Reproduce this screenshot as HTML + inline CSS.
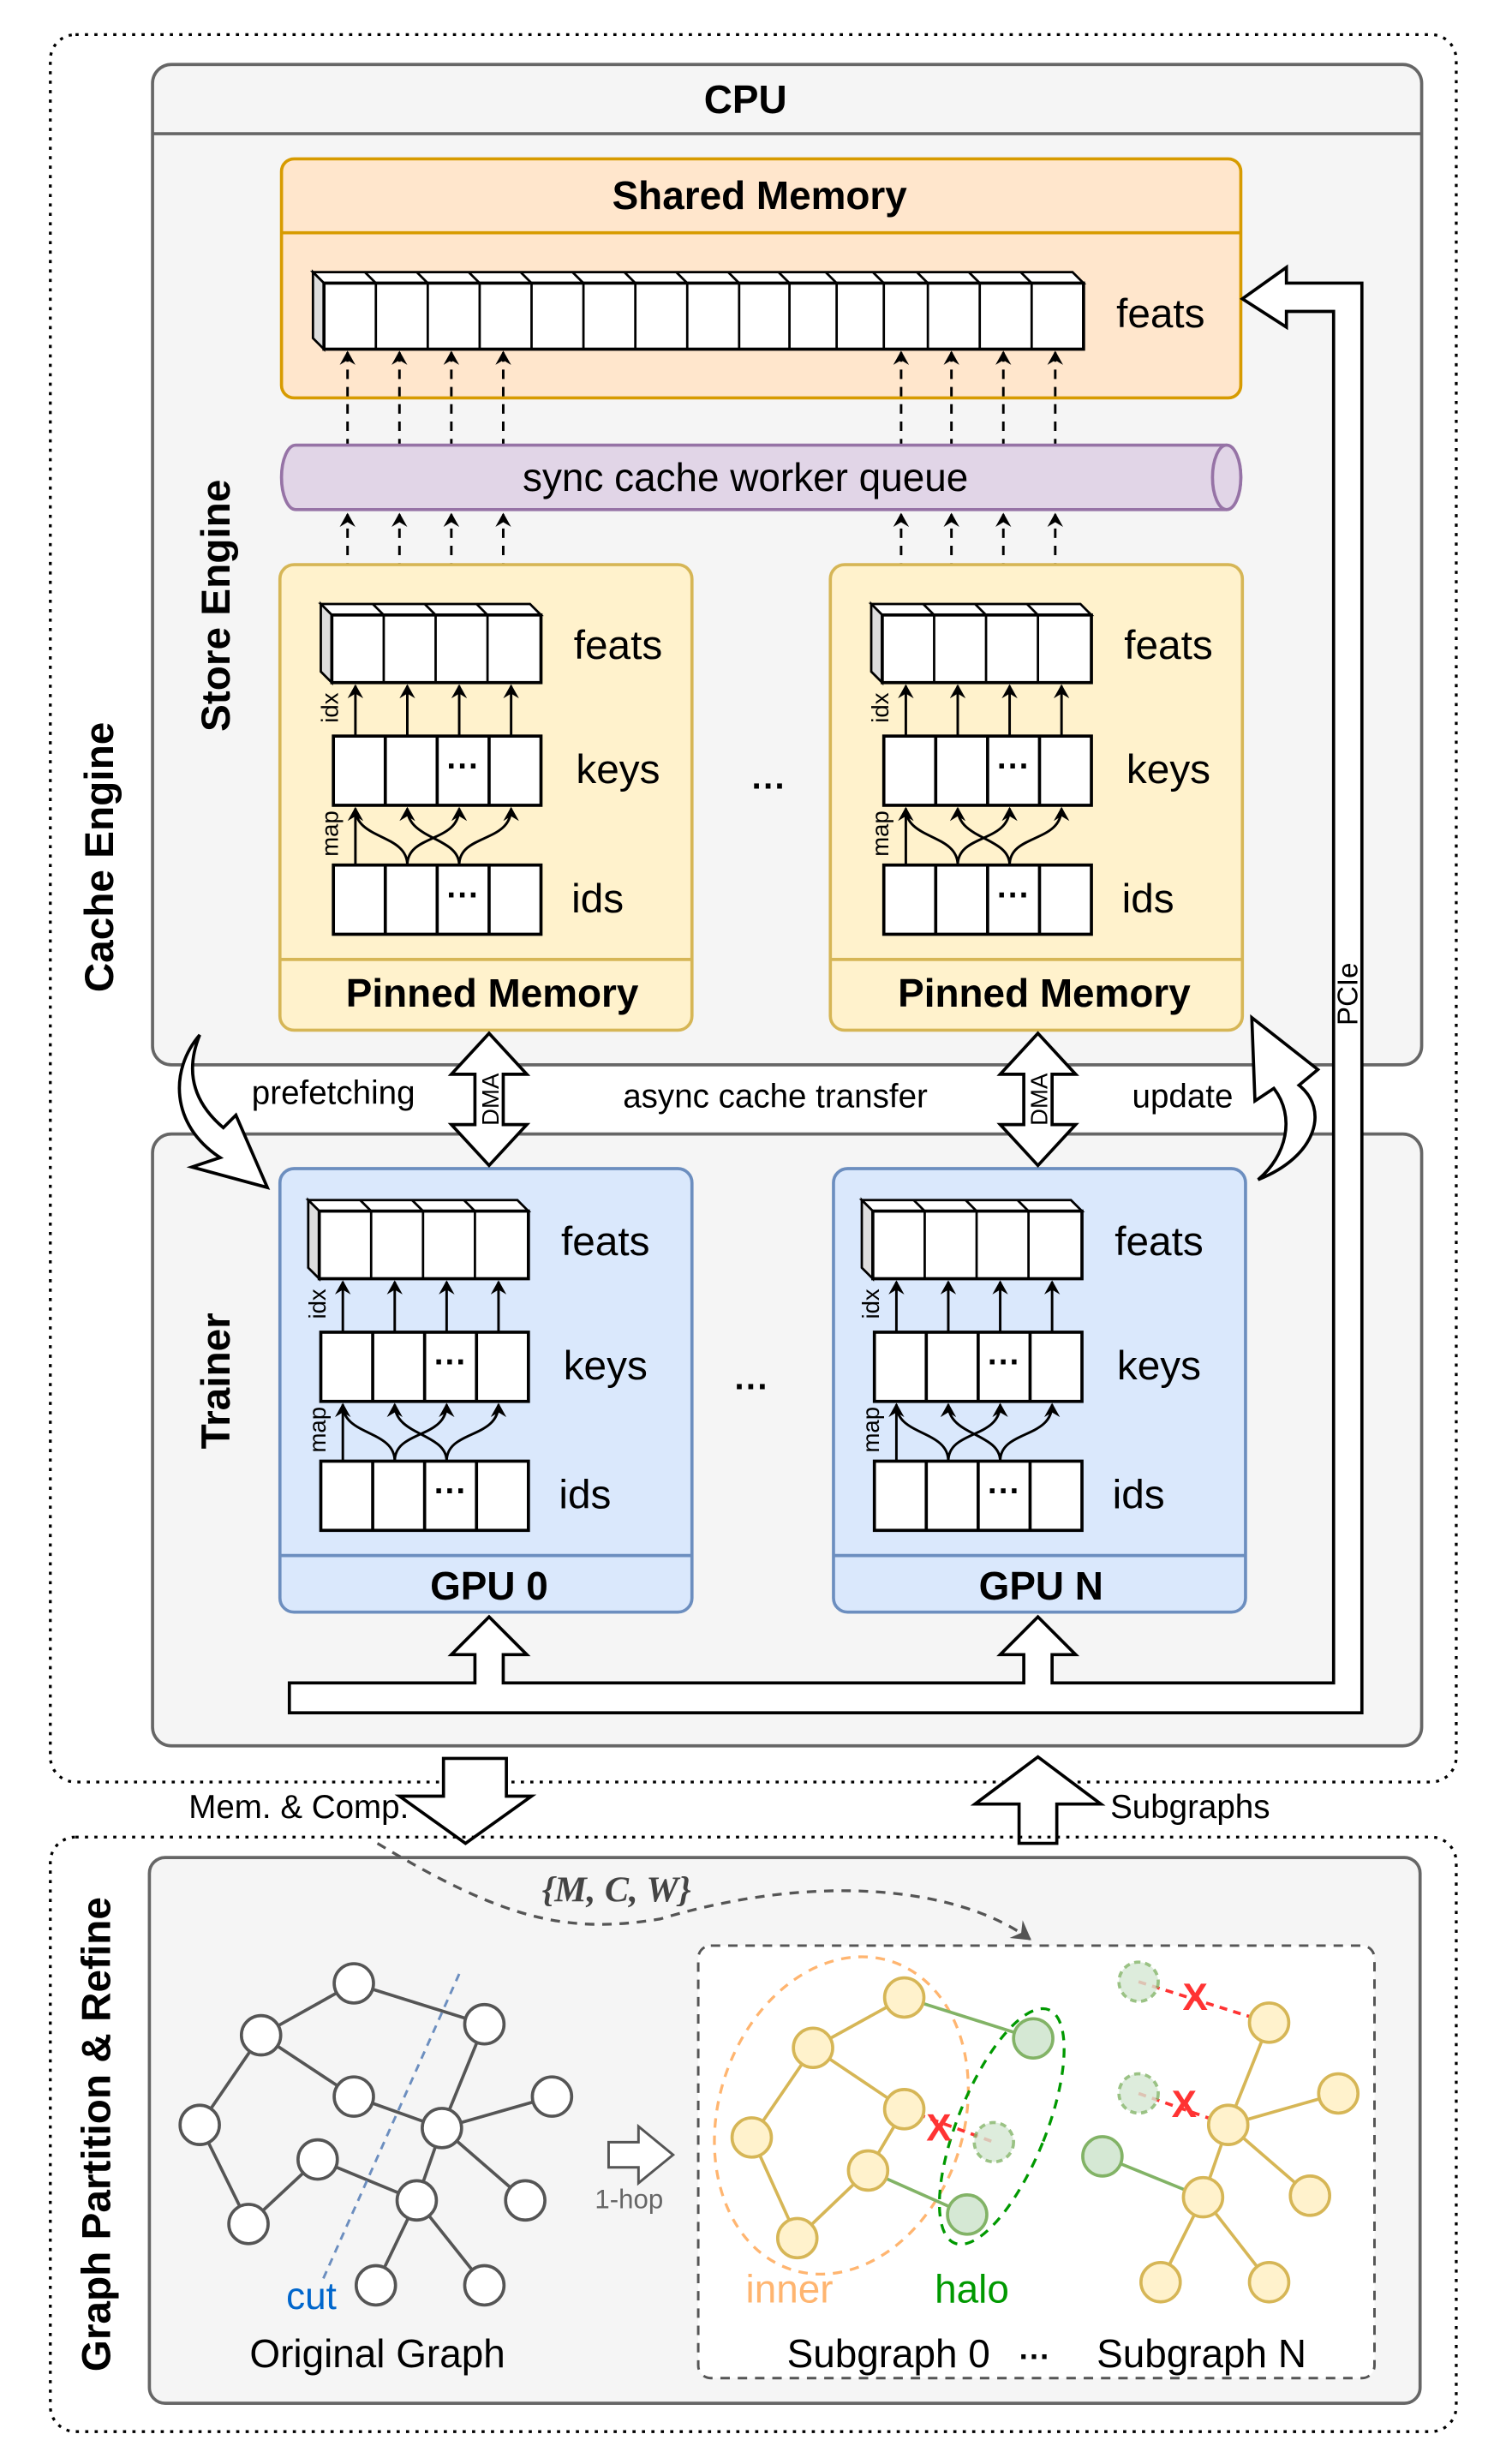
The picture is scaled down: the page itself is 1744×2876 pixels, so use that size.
<!DOCTYPE html>
<html><head><meta charset="utf-8"><style>
html,body{margin:0;padding:0;background:#fff}
svg{display:block}
text{font-family:"Liberation Sans",Arial,sans-serif}
</style></head><body>
<svg width="1744" height="2876" viewBox="0 0 950 1566.6" preserveAspectRatio="none" xmlns="http://www.w3.org/2000/svg">
<defs>
<marker id="ah" markerWidth="10" markerHeight="10" refX="8" refY="5" orient="auto" markerUnits="userSpaceOnUse">
<path d="M0,0 L9,5 L0,10 L3,5 Z" fill="#000"/></marker>
<marker id="ahg" markerWidth="14" markerHeight="14" refX="11" refY="7" orient="auto" markerUnits="userSpaceOnUse">
<path d="M0,0 L12,7 L0,14 L4,7 Z" fill="#555"/></marker>
<g id="blk">
 <polygon points="0,0 133,0 140,7 7,7" fill="#fff" stroke="#000" stroke-width="1.5"/>
 <polygon points="0,0 7,7 7,50 0,43" fill="#ddd" stroke="#000" stroke-width="1.5"/>
 <rect x="7" y="7" width="133" height="43" fill="#fff" stroke="#000" stroke-width="2"/>
 <path d="M40,7V50M73,7V50M106,7V50M33,0L40,7M66,0L73,7M99,0L106,7" stroke="#000" stroke-width="1.5"/>
 <g stroke="#000" stroke-width="1.6" marker-end="url(#ah)">
  <path d="M22,84V52"/><path d="M55,84V52"/><path d="M88,84V52"/><path d="M121,84V52"/>
 </g>
 <rect x="8" y="84" width="132" height="44" fill="#fff" stroke="#000" stroke-width="2"/>
 <path d="M41,84V128M74,84V128M107,84V128" stroke="#000" stroke-width="2"/>
 <text x="90.5" y="110" font-size="21" font-weight="bold" text-anchor="middle">···</text>
 <g stroke="#000" stroke-width="1.6" fill="none" marker-end="url(#ah)">
  <path d="M22,166V130"/>
  <path d="M55,166C55,146 88,152 88,130"/>
  <path d="M88,166C88,146 121,152 121,130"/>
  <path d="M55,166C55,146 22,150 22,130" marker-end="none"/>
  <path d="M88,166C88,148 55,150 55,130"/>
 </g>
 <rect x="8" y="166" width="132" height="44" fill="#fff" stroke="#000" stroke-width="2"/>
 <path d="M41,166V210M74,166V210M107,166V210" stroke="#000" stroke-width="2"/>
 <text x="90.5" y="192" font-size="21" font-weight="bold" text-anchor="middle">···</text>
 <text x="189" y="35" font-size="26" text-anchor="middle">feats</text>
 <text x="189" y="114" font-size="26" text-anchor="middle">keys</text>
 <text x="176" y="196" font-size="26" text-anchor="middle">ids</text>
 <text transform="translate(11,66) rotate(-90)" font-size="15" text-anchor="middle">idx</text>
 <text transform="translate(11,146) rotate(-90)" font-size="15" text-anchor="middle">map</text>
</g>
</defs>

<rect x="32" y="22" width="894" height="1111" rx="16" fill="none" stroke="#000" stroke-width="1.8" stroke-dasharray="2,4"/>
<text transform="translate(72,545) rotate(-90)" font-size="26" font-weight="bold" text-anchor="middle">Cache Engine</text>

<rect x="97" y="41" width="807" height="636" rx="12" fill="#f5f5f5" stroke="#666" stroke-width="2"/>
<line x1="97" y1="85" x2="904" y2="85" stroke="#666" stroke-width="2"/>
<text x="474" y="72" font-size="25" font-weight="bold" text-anchor="middle">CPU</text>
<text transform="translate(146,385) rotate(-90)" font-size="26" font-weight="bold" text-anchor="middle">Store Engine</text>

<rect x="179" y="101" width="610" height="152" rx="8" fill="#ffe6cc" stroke="#d79b00" stroke-width="2"/>
<line x1="179" y1="148" x2="789" y2="148" stroke="#d79b00" stroke-width="2"/>
<text x="483" y="133" font-size="25" font-weight="bold" text-anchor="middle">Shared Memory</text>
<polygon points="199,173 682,173 689,180 206,180" fill="#fff" stroke="#000" stroke-width="1.5"/>
<polygon points="199,173 206,180 206,222 199,215" fill="#ddd" stroke="#000" stroke-width="1.5"/>
<rect x="206" y="180" width="483" height="42" fill="#fff" stroke="#000" stroke-width="2"/>
<path d="M239,180V222M272,180V222M305,180V222M338,180V222M371,180V222M404,180V222M437,180V222M470,180V222M502,180V222M532,180V222M562,180V222M590,180V222M623,180V222M656,180V222
M232,173L239,180M265,173L272,180M298,173L305,180M331,173L338,180M364,173L371,180M397,173L404,180M430,173L437,180M463,173L470,180M495,173L502,180M525,173L532,180M555,173L562,180M583,173L590,180M616,173L623,180M649,173L656,180" stroke="#000" stroke-width="1.5"/>
<text x="738" y="208" font-size="26" text-anchor="middle">feats</text>

<g stroke="#000" stroke-width="1.6" stroke-dasharray="6,5" marker-end="url(#ah)">
<path d="M221,285V224"/><path d="M254,285V224"/><path d="M287,285V224"/><path d="M320,285V224"/>
<path d="M573,285V224"/><path d="M605,285V224"/><path d="M638,285V224"/><path d="M671,285V224"/>
<path d="M221,386V327"/><path d="M254,386V327"/><path d="M287,386V327"/><path d="M320,386V327"/>
<path d="M573,386V327"/><path d="M605,386V327"/><path d="M638,386V327"/><path d="M671,386V327"/>
</g>

<path d="M188,283 H780 A9,20.5 0 0 1 780,324 H188 A9,20.5 0 0 1 188,283 Z" fill="#e1d5e7" stroke="#9673a6" stroke-width="2"/>
<ellipse cx="780" cy="303.5" rx="9" ry="20.5" fill="#e1d5e7" stroke="#9673a6" stroke-width="2"/>
<text x="474" y="312" font-size="25" text-anchor="middle">sync cache worker queue</text>

<rect x="178" y="359" width="262" height="296" rx="9" fill="#fff2cc" stroke="#d6b656" stroke-width="2"/>
<line x1="178" y1="610" x2="440" y2="610" stroke="#d6b656" stroke-width="2"/>
<text x="313" y="640" font-size="25" font-weight="bold" text-anchor="middle">Pinned Memory</text>
<rect x="528" y="359" width="262" height="296" rx="9" fill="#fff2cc" stroke="#d6b656" stroke-width="2"/>
<line x1="528" y1="610" x2="790" y2="610" stroke="#d6b656" stroke-width="2"/>
<text x="664" y="640" font-size="25" font-weight="bold" text-anchor="middle">Pinned Memory</text>
<use href="#blk" transform="translate(204,384)"/>
<use href="#blk" transform="translate(554,384)"/>
<text x="489" y="507" font-size="22" font-weight="bold" text-anchor="middle">···</text>

<rect x="97" y="721" width="807" height="389" rx="12" fill="#f5f5f5" stroke="#666" stroke-width="2"/>
<text transform="translate(146,878) rotate(-90)" font-size="26" font-weight="bold" text-anchor="middle">Trainer</text>
<rect x="178" y="743" width="262" height="282" rx="9" fill="#dae8fc" stroke="#6c8ebf" stroke-width="2"/>
<line x1="178" y1="989" x2="440" y2="989" stroke="#6c8ebf" stroke-width="2"/>
<text x="311" y="1017" font-size="25" font-weight="bold" text-anchor="middle">GPU 0</text>
<rect x="530" y="743" width="262" height="282" rx="9" fill="#dae8fc" stroke="#6c8ebf" stroke-width="2"/>
<line x1="530" y1="989" x2="792" y2="989" stroke="#6c8ebf" stroke-width="2"/>
<text x="662" y="1017" font-size="25" font-weight="bold" text-anchor="middle">GPU N</text>
<use href="#blk" transform="translate(196,763)"/>
<use href="#blk" transform="translate(548,763)"/>
<text x="478" y="889" font-size="22" font-weight="bold" text-anchor="middle">···</text>

<g fill="#fff" stroke="#000" stroke-width="2">
<polygon points="311,657 335,683 320,683 320,715 335,715 311,741 287,715 302,715 302,683 287,683"/>
<polygon points="660,657 684,683 669,683 669,715 684,715 660,741 636,715 651,715 651,683 636,683"/>
</g>
<text transform="translate(317,699) rotate(-90)" font-size="15" text-anchor="middle">DMA</text>
<text transform="translate(666,699) rotate(-90)" font-size="15" text-anchor="middle">DMA</text>
<text x="212" y="702" font-size="21" text-anchor="middle">prefetching</text>
<text x="493" y="704" font-size="21" text-anchor="middle">async cache transfer</text>
<text x="752" y="704" font-size="21" text-anchor="middle">update</text>

<path d="M127,658 C108,680 108,715 140,736 L122,742 L170,755 L150,709 L142,717 C122,700 118,680 127,658 Z" fill="#fff" stroke="#000" stroke-width="2"/>
<path d="M800,750 C838,735 845,705 826,690 L838,680 L796,647 L798,700 L810,692 C824,710 818,735 800,750 Z" fill="#fff" stroke="#000" stroke-width="2"/>

<polygon points="790,190 818,170 818,180 866,180 866,1089 184,1089 184,1070 302,1070 302,1052 287,1052 311,1028 335,1052 320,1052 320,1070 651,1070 651,1052 636,1052 660,1028 684,1052 669,1052 669,1070 848,1070 848,198 818,198 818,208" fill="#fff" stroke="#000" stroke-width="2"/>
<text transform="translate(863,632) rotate(-90)" font-size="18" text-anchor="middle">PCIe</text>

<polygon points="282,1118 322,1118 322,1142 338,1142 296,1172 254,1142 282,1142" fill="#fff" stroke="#000" stroke-width="2"/>
<polygon points="648,1172 672,1172 672,1147 700,1147 660,1117 620,1147 648,1147" fill="#fff" stroke="#000" stroke-width="2"/>
<text x="260" y="1156" font-size="21" text-anchor="end">Mem. &amp; Comp.</text>
<text x="706" y="1156" font-size="21">Subgraphs</text>

<rect x="32" y="1168" width="894" height="378" rx="16" fill="none" stroke="#000" stroke-width="1.8" stroke-dasharray="2,4"/>
<rect x="95" y="1181" width="808" height="347" rx="10" fill="#f5f5f5" stroke="#666" stroke-width="2"/>
<text transform="translate(70,1357) rotate(-90)" font-size="26" font-weight="bold" text-anchor="middle">Graph Partition &amp; Refine</text>
<rect x="444" y="1237" width="430" height="275" rx="8" fill="#fff" stroke="#555" stroke-width="1.6" stroke-dasharray="6,5"/>
<path d="M240,1172 C320,1220 360,1230 420,1220 C520,1190 610,1200 655,1233" fill="none" stroke="#555" stroke-width="1.8" stroke-dasharray="6,5" marker-end="url(#ahg)"/>
<text x="392" y="1209" font-size="23" font-style="italic" font-weight="bold" fill="#444" text-anchor="middle" style="font-family:'Liberation Serif',serif">{M, C, W}</text>

<g stroke="#555" stroke-width="2" fill="none">
<path d="M225,1261L166,1294M225,1261L308,1287M166,1294L225,1333M166,1294L127,1351M225,1333L281,1353M308,1287L281,1353M281,1353L351,1333M281,1353L265,1399M281,1353L334,1399M127,1351L158,1414M202,1373L158,1414M202,1373L265,1399M265,1399L239,1453M265,1399L308,1453"/>
</g>
<g fill="#fff" stroke="#555" stroke-width="2">
<circle cx="225" cy="1261" r="12.5"/><circle cx="166" cy="1294" r="12.5"/><circle cx="308" cy="1287" r="12.5"/><circle cx="225" cy="1333" r="12.5"/><circle cx="127" cy="1351" r="12.5"/><circle cx="281" cy="1353" r="12.5"/><circle cx="351" cy="1333" r="12.5"/><circle cx="202" cy="1373" r="12.5"/><circle cx="265" cy="1399" r="12.5"/><circle cx="334" cy="1399" r="12.5"/><circle cx="158" cy="1414" r="12.5"/><circle cx="239" cy="1453" r="12.5"/><circle cx="308" cy="1453" r="12.5"/>
</g>
<path d="M292,1255 L205,1450" stroke="#6c8ebf" stroke-width="1.6" stroke-dasharray="5,4"/>
<text x="198" y="1468" font-size="24" fill="#0066cc" text-anchor="middle">cut</text>
<text x="240" y="1505" font-size="25" text-anchor="middle">Original Graph</text>
<polygon points="387,1362 406,1362 406,1352 428,1370 406,1388 406,1378 387,1378" fill="#fff" stroke="#555" stroke-width="1.6"/>
<text x="400" y="1404" font-size="17" fill="#666" text-anchor="middle">1-hop</text>

<ellipse cx="535" cy="1345" rx="78" ry="103" transform="rotate(18 535 1345)" fill="none" stroke="#ffb570" stroke-width="1.8" stroke-dasharray="6,5"/>
<ellipse cx="637" cy="1352" rx="28" ry="80" transform="rotate(22 637 1352)" fill="none" stroke="#009900" stroke-width="1.8" stroke-dasharray="6,5"/>
<g stroke="#d6b656" stroke-width="2"><path d="M575,1270L517,1302M517,1302L478,1359M517,1302L575,1341M478,1359L507,1423M507,1423L552,1380M552,1380L575,1341"/></g>
<g stroke="#82b366" stroke-width="2"><path d="M575,1270L657,1296M552,1380L615,1408"/></g>
<path d="M575,1341L632,1362" stroke="#ff3333" stroke-width="2" stroke-dasharray="5,4"/>
<g fill="#fff2cc" stroke="#d6b656" stroke-width="2"><circle cx="575" cy="1270" r="12.5"/><circle cx="517" cy="1302" r="12.5"/><circle cx="575" cy="1341" r="12.5"/><circle cx="478" cy="1359" r="12.5"/><circle cx="552" cy="1380" r="12.5"/><circle cx="507" cy="1423" r="12.5"/></g>
<g fill="#d5e8d4" stroke="#82b366" stroke-width="2"><circle cx="657" cy="1296" r="12.5"/><circle cx="615" cy="1408" r="12.5"/></g>
<circle cx="632" cy="1362" r="12.5" fill="#d5e8d4" stroke="#82b366" stroke-width="2" stroke-dasharray="4,3" opacity="0.8"/>
<text x="597" y="1361" font-size="24" font-weight="bold" fill="#ff3333" text-anchor="middle">X</text>
<text x="502" y="1464" font-size="25" fill="#ffb570" text-anchor="middle">inner</text>
<text x="618" y="1464" font-size="25" fill="#009900" text-anchor="middle">halo</text>

<g stroke="#d6b656" stroke-width="2"><path d="M781,1351L807,1286M781,1351L851,1331M781,1351L833,1396M781,1351L765,1397M765,1397L738,1451M765,1397L807,1451"/></g>
<path d="M701,1371L765,1397" stroke="#82b366" stroke-width="2"/>
<path d="M724,1260L807,1286M724,1331L781,1351" stroke="#ff3333" stroke-width="2" stroke-dasharray="5,4"/>
<g fill="#fff2cc" stroke="#d6b656" stroke-width="2"><circle cx="807" cy="1286" r="12.5"/><circle cx="851" cy="1331" r="12.5"/><circle cx="781" cy="1351" r="12.5"/><circle cx="833" cy="1396" r="12.5"/><circle cx="765" cy="1397" r="12.5"/><circle cx="738" cy="1451" r="12.5"/><circle cx="807" cy="1451" r="12.5"/></g>
<circle cx="701" cy="1371" r="12.5" fill="#d5e8d4" stroke="#82b366" stroke-width="2"/>
<g fill="#d5e8d4" stroke="#82b366" stroke-width="2" stroke-dasharray="4,3" opacity="0.8"><circle cx="724" cy="1260" r="12.5"/><circle cx="724" cy="1331" r="12.5"/></g>
<text x="760" y="1278" font-size="24" font-weight="bold" fill="#ff3333" text-anchor="middle">X</text>
<text x="753" y="1346" font-size="24" font-weight="bold" fill="#ff3333" text-anchor="middle">X</text>
<text x="565" y="1505" font-size="25" text-anchor="middle">Subgraph 0</text>
<text x="658" y="1505" font-size="20" font-weight="bold" text-anchor="middle">···</text>
<text x="764" y="1505" font-size="25" text-anchor="middle">Subgraph N</text>
</svg>
</body></html>
